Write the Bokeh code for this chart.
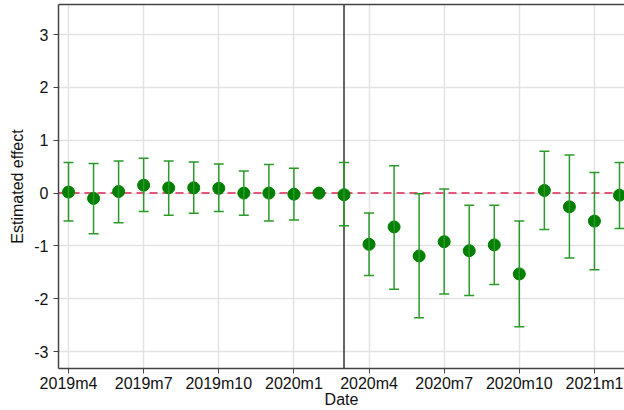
from bokeh.plotting import figure
from bokeh.models import (ColumnDataSource, Whisker, TeeHead, Span, FixedTicker,
                          LinearAxis, Range1d)
from bokeh.embed import file_html
from bokeh.resources import INLINE

months = ["2019m4", "2019m5", "2019m6", "2019m7", "2019m8", "2019m9", "2019m10",
          "2019m11", "2019m12", "2020m1", "2020m2", "2020m3", "2020m4", "2020m5",
          "2020m6", "2020m7", "2020m8", "2020m9", "2020m10", "2020m11", "2020m12",
          "2021m1", "2021m2"]
estimate = [0.02, -0.10, 0.03, 0.15, 0.10, 0.10, 0.09, 0.00, 0.00, -0.02, 0.00,
            -0.03, -0.97, -0.64, -1.19, -0.92, -1.09, -0.98, -1.53, 0.05, -0.26,
            -0.53, -0.04]
upper = [0.58, 0.56, 0.61, 0.66, 0.61, 0.59, 0.55, 0.42, 0.54, 0.47, None,
         0.58, -0.375, 0.52, -0.01, 0.08, -0.23, -0.23, -0.53, 0.79, 0.72,
         0.39, 0.58]
lower = [-0.53, -0.77, -0.56, -0.35, -0.42, -0.38, -0.35, -0.42, -0.53, -0.51, None,
         -0.62, -1.56, -1.82, -2.36, -1.91, -1.94, -1.73, -2.53, -0.69, -1.23,
         -1.45, -0.67]
tick_months = ["2019m4", "2019m7", "2019m10", "2020m1", "2020m4", "2020m7",
               "2020m10", "2021m1"]
y_ticks = [-3, -2, -1, 0, 1, 2, 3]
y_tick_labels = ["-3", "-2", "-1", "0", "1", "2", "3"]
event_month = "2020m3"
x_title = "Date"
y_title = "Estimated effect"

FONT = "Liberation Sans"
x_idx = list(range(len(months)))

pts = ColumnDataSource(dict(x=x_idx, y=estimate, m=months))
ci_rows = [i for i in x_idx if upper[i] is not None]
ci = ColumnDataSource(dict(x=[x_idx[i] for i in ci_rows],
                           upper=[upper[i] for i in ci_rows],
                           lower=[lower[i] for i in ci_rows]))

p = figure(width=624, height=410, output_backend="svg", toolbar_location=None,
           x_range=Range1d(-0.4, 22.2), y_range=Range1d(-3.32, 3.57),
           min_border_left=58, min_border_right=0, min_border_top=4,
           min_border_bottom=42, background_fill_color="white")
p.outline_line_color = None

# grid
p.xgrid.grid_line_color = "#e3e3e3"
p.ygrid.grid_line_color = "#e3e3e3"
p.xgrid.grid_line_width = 1.5
p.ygrid.grid_line_width = 1.5

# axes
tick_pos = [months.index(m) for m in tick_months]
p.xaxis.ticker = FixedTicker(ticks=tick_pos)
p.xaxis.major_label_overrides = {pos: lab for pos, lab in zip(tick_pos, tick_months)}
p.yaxis.ticker = FixedTicker(ticks=y_ticks)
p.yaxis.major_label_overrides = {t: lab for t, lab in zip(y_ticks, y_tick_labels)}
p.xaxis.axis_label = x_title
p.yaxis.axis_label = y_title
for ax in (p.xaxis, p.yaxis):
    ax.axis_line_color = "#444444"
    ax.axis_line_width = 1.5
    ax.major_tick_line_color = "#444444"
    ax.major_tick_in = 0
    ax.major_tick_out = 5
    ax.minor_tick_line_color = None
    ax.major_label_text_font = FONT
    ax.major_label_text_font_size = "16px"
    ax.major_label_text_color = "#111111"
    ax.axis_label_text_font = FONT
    ax.axis_label_text_font_size = "16px"
    ax.axis_label_text_font_style = "normal"
    ax.axis_label_text_color = "#111111"
p.xaxis.major_label_standoff = 1
p.xaxis.axis_label_standoff = -4
p.yaxis.major_label_standoff = 5
p.yaxis.axis_label_standoff = 5

top = LinearAxis(ticker=FixedTicker(ticks=[]), axis_line_color="#444444",
                 axis_line_width=1.5, major_tick_line_color=None,
                 minor_tick_line_color=None, major_label_text_font_size="0px")
p.add_layout(top, "above")

zero = Span(location=0, dimension="width", line_color="#e0587c", line_width=2,
            line_dash="8 5", level="underlay")
event = Span(location=months.index(event_month), dimension="height",
             line_color="#333333", line_width=1.5, level="underlay")
p.add_layout(zero)
p.add_layout(event)

w = Whisker(source=ci, base="x", upper="upper", lower="lower", dimension="height",
            line_color="#2a9a2a", line_width=1.5, level="glyph",
            upper_head=TeeHead(size=10, line_color="#2a9a2a", line_width=1.5),
            lower_head=TeeHead(size=10, line_color="#2a9a2a", line_width=1.5))
p.add_layout(w)

p.scatter("x", "y", source=pts, size=12, fill_color="#007f00", line_color="#007f00")

open("out.html", "w").write(file_html(p, INLINE))
